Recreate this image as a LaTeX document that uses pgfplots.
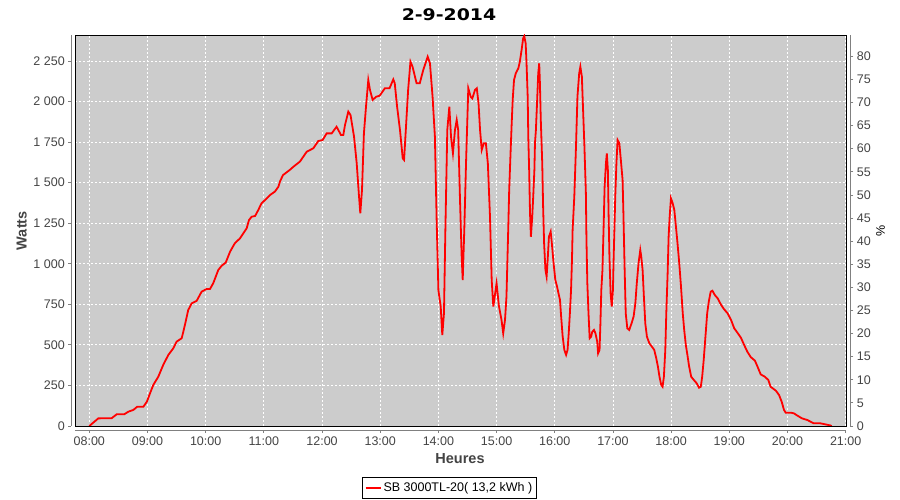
\documentclass[border=0pt]{standalone}
\usepackage{pgfplots}
\usepackage{pgfplotstable}
\pgfplotsset{compat=1.18}
\usepackage{fontspec}
\setmainfont{Liberation Sans}
\newfontfamily\titlefont[FakeStretch=1.18]{DejaVu Sans}
\definecolor{plotbg}{RGB}{204,204,204}
\definecolor{axisgray}{RGB}{128,128,128}
\definecolor{labelgray}{RGB}{68,68,68}

% production (W) against time of day (hours)
\pgfplotstableread{
h W
8.000 0
8.155 47
8.385 48
8.470 72
8.600 72
8.670 88
8.756 99
8.825 119
8.930 119
8.990 150
9.043 201
9.100 253
9.186 304
9.270 376
9.358 438
9.444 479
9.500 520
9.588 541
9.616 581
9.656 643
9.700 715
9.760 756
9.846 772
9.930 828
10.018 845
10.075 845
10.130 880
10.217 962
10.275 988
10.344 1007
10.420 1075
10.500 1126
10.590 1157
10.647 1188
10.705 1219
10.745 1270
10.790 1290
10.850 1295
10.905 1332
10.960 1373
11.020 1393
11.106 1424
11.190 1445
11.250 1475
11.280 1510
11.330 1547
11.450 1580
11.510 1599
11.620 1630
11.737 1691
11.850 1712
11.936 1757
12.010 1763
12.080 1804
12.166 1804
12.250 1845
12.326 1794
12.366 1794
12.395 1856
12.452 1938
12.490 1917
12.550 1784
12.596 1620
12.636 1414
12.658 1311
12.687 1455
12.720 1804
12.756 1969
12.795 2133
12.824 2072
12.870 2010
12.930 2030
12.990 2036
13.080 2082
13.160 2082
13.225 2137
13.250 2113
13.290 1969
13.340 1825
13.387 1650
13.410 1640
13.440 1825
13.480 2072
13.520 2246
13.556 2215
13.625 2113
13.680 2113
13.740 2195
13.816 2277
13.855 2236
13.900 2030
13.940 1784
13.970 1270
14.000 838
14.040 736
14.067 561
14.096 695
14.120 1208
14.153 1825
14.188 1969
14.217 1784
14.250 1681
14.285 1825
14.315 1887
14.340 1825
14.370 1414
14.400 1044
14.418 900
14.445 1208
14.475 1620
14.514 2082
14.555 2030
14.583 2020
14.630 2072
14.660 2082
14.690 1990
14.716 1825
14.745 1702
14.780 1743
14.816 1743
14.850 1620
14.887 1290
14.916 900
14.944 736
15.000 880
15.040 740
15.085 654
15.114 571
15.145 654
15.170 797
15.185 1003
15.200 1208
15.217 1455
15.240 1681
15.260 1866
15.277 2010
15.300 2133
15.330 2174
15.374 2205
15.400 2246
15.430 2318
15.457 2390
15.476 2404
15.500 2359
15.515 2236
15.535 2030
15.545 1784
15.560 1578
15.575 1311
15.590 1167
15.613 1290
15.630 1414
15.650 1578
15.660 1743
15.676 1825
15.700 2030
15.716 2174
15.733 2236
15.745 2113
15.760 1887
15.785 1620
15.800 1352
15.817 1126
15.840 962
15.860 921
15.875 1003
15.900 1167
15.930 1198
15.950 1126
15.980 1003
16.010 900
16.040 859
16.064 818
16.090 777
16.110 674
16.136 551
16.165 469
16.195 438
16.220 469
16.240 571
16.260 695
16.280 838
16.296 1023
16.307 1208
16.336 1414
16.365 1722
16.390 2030
16.420 2174
16.440 2215
16.466 2154
16.487 1948
16.510 1722
16.535 1435
16.545 1147
16.560 880
16.580 695
16.600 541
16.625 551
16.645 581
16.675 592
16.700 571
16.730 520
16.745 448
16.770 469
16.785 633
16.800 838
16.820 962
16.840 1229
16.857 1475
16.880 1620
16.895 1681
16.913 1578
16.925 1311
16.940 1044
16.960 818
16.980 736
17.000 838
17.010 1003
17.040 1414
17.060 1620
17.080 1763
17.110 1743
17.136 1640
17.166 1517
17.180 1311
17.200 982
17.220 695
17.247 602
17.280 592
17.320 633
17.355 674
17.385 756
17.410 880
17.440 1003
17.470 1085
17.487 1044
17.510 962
17.532 797
17.556 633
17.584 551
17.626 510
17.670 489
17.710 469
17.745 417
17.773 366
17.800 304
17.830 253
17.853 242
17.876 304
17.900 469
17.917 695
17.940 941
17.957 1167
17.975 1290
17.997 1404
18.027 1373
18.055 1332
18.083 1229
18.110 1126
18.140 1003
18.170 859
18.200 695
18.225 592
18.253 499
18.280 438
18.310 366
18.345 304
18.380 288
18.440 263
18.480 236
18.510 242
18.534 304
18.560 407
18.590 551
18.620 695
18.647 766
18.680 828
18.710 834
18.750 808
18.800 787
18.860 746
18.910 720
18.970 695
19.030 654
19.085 602
19.140 575
19.200 544
19.256 499
19.310 458
19.370 424
19.440 403
19.485 366
19.540 318
19.610 304
19.670 284
19.710 242
19.800 218
19.855 191
19.900 150
19.940 99
19.970 82
20.060 82
20.110 78
20.170 64
20.250 47
20.340 37
20.450 17
20.560 17
20.730 4
20.760 0
}\powertable

\begin{document}
\begin{tikzpicture}
\useasboundingbox (0,0) rectangle (900pt,500pt);
\pgfplotsset{
  frame/.style={at={(75.3pt,74pt)}, anchor=south west, scale only axis,
    width=771pt, height=391pt, xmin=7.7594, xmax=21.011},
  tick label style={font=\fontsize{12.5}{15}\selectfont, color=labelgray},
}
% plot area with grid and data
\begin{axis}[frame, ymin=0, ymax=2410.6,
  axis background/.style={fill=plotbg},
  xtick={8,...,21}, ytick={0,250,...,2250},
  xticklabels={,,}, yticklabels={,,}, major tick length=0pt,
  grid=major, grid style={white, dash pattern=on 2pt off 2pt, line width=0.8pt},
  axis line style={black, line width=0.8pt},
  legend style={at={(0.4853,-0.158)}, anchor=center, draw=black, line width=0.8pt,
    fill=white, font=\fontsize{12.5}{15}\selectfont, inner xsep=2pt, inner ysep=3pt},
  legend cell align=left,
  legend image code/.code={\draw[red, line width=1.8pt] (0pt,0pt) -- (15pt,0pt);},
]
\addplot[red, line width=1.8pt] table[x=h, y=W] {\powertable};
\addlegendentry{SB 3000TL-20( 13,2 kWh )}
\end{axis}
% detached left and bottom axes
\begin{axis}[frame, ymin=0, ymax=2410.6,
  axis x line*=bottom, axis y line*=left,
  axis x line shift=4pt, axis y line shift=4pt,
  axis line style={axisgray, line width=0.8pt, -},
  tick style={axisgray, line width=0.8pt}, tick align=outside, major tick length=3pt,
  xtick={8,...,21},
  xticklabels={08:00,09:00,10:00,11:00,12:00,13:00,14:00,15:00,16:00,17:00,18:00,19:00,20:00,21:00},
  ytick={0,250,...,2250},
  yticklabels={0,250,500,750,1 000,1 250,1 500,1 750,2 000,2 250},
]
\end{axis}
% detached right axis
\begin{axis}[frame, ymin=0, ymax=84.6,
  axis x line=none, axis y line*=right, axis y line shift=4pt,
  axis line style={axisgray, line width=0.8pt, -},
  tick style={axisgray, line width=0.8pt}, tick align=outside, major tick length=3pt,
  ytick={0,5,...,80},
  yticklabels={0,5,10,15,20,25,30,35,40,45,50,55,60,65,70,75,80},
]
\end{axis}
\node[font=\titlefont\bfseries\fontsize{16}{18}\selectfont] at (449pt,485.5pt) {2-9-2014};
\node[font=\bfseries\fontsize{14.5}{17}\selectfont, color=labelgray, rotate=90] at (21.7pt,269.3pt) {Watts};
\node[font=\bfseries\fontsize{14.5}{17}\selectfont, color=labelgray] at (460pt,41pt) {Heures};
\node[font=\fontsize{12.5}{15}\selectfont, rotate=90] at (880.5pt,269pt) {\%};
\end{tikzpicture}
\end{document}
